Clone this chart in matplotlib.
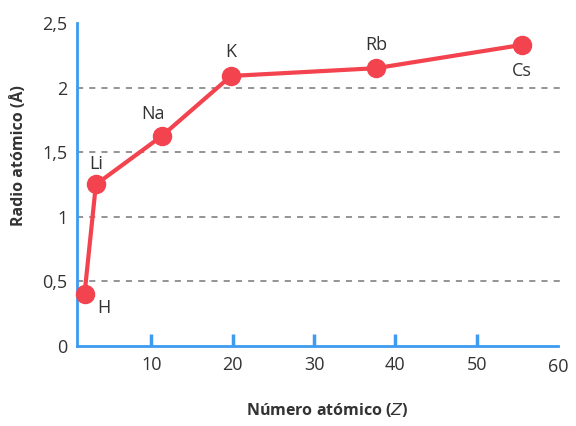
import matplotlib
matplotlib.use('Agg')
import matplotlib.pyplot as plt

# alkali metals (plus H): atomic number vs atomic radius
elements = ['H', 'Li', 'Na', 'K', 'Rb', 'Cs']
z_vals = [1.8, 3.2, 11.3, 19.8, 37.6, 55.5]
radius = [0.40, 1.25, 1.625, 2.09, 2.15, 2.33]
x_ticks = [10, 20, 30, 40, 50, 60]
y_ticks = [0, 0.5, 1, 1.5, 2, 2.5]
y_labels = ['0', '0,5', '1', '1,5', '2', '2,5']
grid_levels = [0.5, 1, 1.5, 2]

plt.rcParams['font.family'] = ['Open Sans', 'DejaVu Sans']

fig = plt.figure(figsize=(5.76, 4.26), dpi=100)
ax = fig.add_axes([0.134, 0.188, 0.835, 0.758])

blue = '#3d9bf0'
red = '#f2434f'
txt = '#333333'

ax.hlines(grid_levels, 0.9, 60.8, colors='#777777', linestyles=(0, (4, 4)),
          linewidth=1.1, clip_on=False, zorder=1)

ax.plot(z_vals, radius, color=red, linewidth=3, marker='o', markersize=13,
        zorder=3, clip_on=False)

# element labels
offsets = {'H': (14, -10), 'Li': (0, 15), 'Na': (-6, 16), 'K': (0, 17),
           'Rb': (0, 17), 'Cs': (0, -19)}
for name, x, y in zip(elements, z_vals, radius):
    dx, dy = offsets[name]
    ax.annotate(name, (x, y), xytext=(dx, dy), textcoords='offset points',
                ha='center', va='center', fontsize=13, color=txt)

ax.set_xlim(0.9, 60)
ax.set_ylim(0, 2.5)

for s in ['top', 'right']:
    ax.spines[s].set_visible(False)
for s in ['left', 'bottom']:
    ax.spines[s].set_color(blue)
    ax.spines[s].set_linewidth(2)

ax.set_xticks(x_ticks[:-1])
ax.set_xticklabels([str(t) for t in x_ticks[:-1]])
ax.tick_params(axis='x', direction='in', length=9, width=2.5, color=blue,
               labelsize=13, labelcolor=txt, pad=7)
ax.text(60, -0.095, '60', ha='center', va='top', fontsize=13, color=txt,
        transform=ax.transData)

ax.set_yticks(y_ticks)
ax.set_yticklabels(y_labels)
ax.tick_params(axis='y', length=0, labelsize=13, labelcolor=txt, pad=7)

ax.set_ylabel('Radio atómico (Å)', fontsize=11.5, fontweight='bold', color=txt)
ax.yaxis.set_label_coords(-0.104, 0.59)
ax.set_xlabel('Número atómico ($\\mathit{Z}$)', fontsize=11.5, fontweight='bold',
              color=txt)
ax.xaxis.set_label_coords(0.52, -0.172)

fig.savefig('out.png', dpi=100)
